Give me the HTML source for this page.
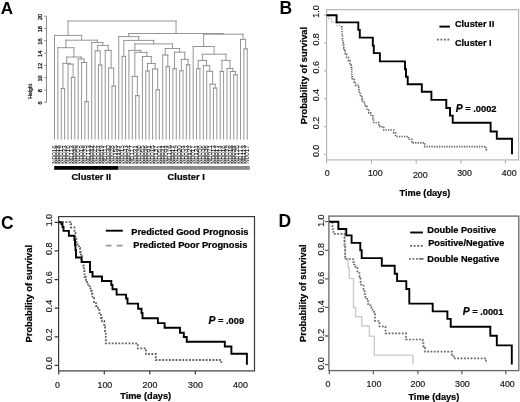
<!DOCTYPE html>
<html><head><meta charset="utf-8"><style>
html,body{margin:0;padding:0;background:#fff;}
body{width:520px;height:402px;overflow:hidden;}
svg{display:block;filter:grayscale(1);}
text{font-family:"Liberation Sans", sans-serif;}
</style></head><body>
<svg width="520" height="402" viewBox="0 0 520 402">
<g>
<rect width="520" height="402" fill="#fff"/>
<g stroke="#8a8a8a" stroke-width="0.9" fill="none" stroke-linecap="square">
<path d="M61.26 88.60L64.65 88.60 M61.26 88.60L61.26 139.00 M64.65 88.60L64.65 139.00 M71.41 77.40L74.79 77.40 M71.41 77.40L71.41 139.00 M74.79 77.40L74.79 139.00 M68.03 64.20L73.10 64.20 M68.03 64.20L68.03 139.00 M73.10 64.20L73.10 77.40 M62.95 63.40L70.56 63.40 M62.95 63.40L62.95 88.60 M70.56 63.40L70.56 64.20 M84.94 101.70L88.32 101.70 M84.94 101.70L84.94 139.00 M88.32 101.70L88.32 139.00 M81.56 62.50L86.63 62.50 M81.56 62.50L81.56 139.00 M86.63 62.50L86.63 101.70 M78.17 59.00L84.09 59.00 M78.17 59.00L78.17 139.00 M84.09 59.00L84.09 62.50 M66.76 57.00L81.13 57.00 M66.76 57.00L66.76 63.40 M81.13 57.00L81.13 59.00 M57.88 47.70L73.95 47.70 M57.88 47.70L57.88 139.00 M73.95 47.70L73.95 57.00 M98.47 65.00L101.85 65.00 M98.47 65.00L98.47 139.00 M101.85 65.00L101.85 139.00 M95.08 50.90L100.16 50.90 M95.08 50.90L95.08 139.00 M100.16 50.90L100.16 65.00 M111.99 86.10L115.38 86.10 M111.99 86.10L111.99 139.00 M115.38 86.10L115.38 139.00 M108.61 68.10L113.69 68.10 M108.61 68.10L108.61 139.00 M113.69 68.10L113.69 86.10 M105.23 50.40L111.15 50.40 M105.23 50.40L105.23 139.00 M111.15 50.40L111.15 68.10 M97.62 45.40L108.19 45.40 M97.62 45.40L97.62 50.90 M108.19 45.40L108.19 50.40 M91.70 42.50L102.90 42.50 M91.70 42.50L91.70 139.00 M102.90 42.50L102.90 45.40 M65.91 40.20L97.30 40.20 M65.91 40.20L65.91 47.70 M97.30 40.20L97.30 42.50 M54.50 35.40L81.61 35.40 M54.50 35.40L54.50 139.00 M81.61 35.40L81.61 40.20 M122.14 56.40L125.52 56.40 M122.14 56.40L122.14 139.00 M125.52 56.40L125.52 139.00 M135.67 95.70L139.05 95.70 M135.67 95.70L135.67 139.00 M139.05 95.70L139.05 139.00 M132.29 76.40L137.36 76.40 M132.29 76.40L132.29 139.00 M137.36 76.40L137.36 95.70 M145.81 71.00L149.20 71.00 M145.81 71.00L145.81 139.00 M149.20 71.00L149.20 139.00 M155.96 89.80L159.34 89.80 M155.96 89.80L155.96 139.00 M159.34 89.80L159.34 139.00 M152.58 68.90L157.65 68.90 M152.58 68.90L152.58 139.00 M157.65 68.90L157.65 89.80 M147.50 63.50L155.11 63.50 M147.50 63.50L147.50 71.00 M155.11 63.50L155.11 68.90 M142.43 56.50L151.31 56.50 M142.43 56.50L142.43 139.00 M151.31 56.50L151.31 63.50 M134.82 52.40L146.87 52.40 M134.82 52.40L134.82 76.40 M146.87 52.40L146.87 56.50 M128.90 50.40L140.85 50.40 M128.90 50.40L128.90 139.00 M140.85 50.40L140.85 52.40 M166.11 66.70L169.49 66.70 M166.11 66.70L166.11 139.00 M169.49 66.70L169.49 139.00 M162.72 55.00L167.80 55.00 M162.72 55.00L162.72 139.00 M167.80 55.00L167.80 66.70 M172.87 68.70L176.25 68.70 M172.87 68.70L172.87 139.00 M176.25 68.70L176.25 139.00 M179.63 70.70L183.02 70.70 M179.63 70.70L179.63 139.00 M183.02 70.70L183.02 139.00 M186.40 64.90L189.78 64.90 M186.40 64.90L186.40 139.00 M189.78 64.90L189.78 139.00 M181.32 59.40L188.09 59.40 M181.32 59.40L181.32 70.70 M188.09 59.40L188.09 64.90 M174.56 52.20L184.71 52.20 M174.56 52.20L174.56 68.70 M184.71 52.20L184.71 59.40 M165.26 48.50L179.63 48.50 M165.26 48.50L165.26 55.00 M179.63 48.50L179.63 52.20 M134.88 43.90L172.45 43.90 M134.88 43.90L134.88 50.40 M172.45 43.90L172.45 48.50 M123.83 40.40L153.66 40.40 M123.83 40.40L123.83 56.40 M153.66 40.40L153.66 43.90 M118.76 36.60L138.75 36.60 M118.76 36.60L118.76 139.00 M138.75 36.60L138.75 40.40 M196.54 68.70L199.93 68.70 M196.54 68.70L196.54 139.00 M199.93 68.70L199.93 139.00 M213.45 88.10L216.84 88.10 M213.45 88.10L213.45 139.00 M216.84 88.10L216.84 139.00 M210.07 84.20L215.15 84.20 M210.07 84.20L210.07 139.00 M215.15 84.20L215.15 88.10 M206.69 71.30L212.61 71.30 M206.69 71.30L206.69 139.00 M212.61 71.30L212.61 84.20 M203.31 65.70L209.65 65.70 M203.31 65.70L203.31 139.00 M209.65 65.70L209.65 71.30 M198.24 60.50L206.48 60.50 M198.24 60.50L198.24 68.70 M206.48 60.50L206.48 65.70 M220.22 71.50L223.60 71.50 M220.22 71.50L220.22 139.00 M223.60 71.50L223.60 139.00 M233.75 74.80L237.13 74.80 M233.75 74.80L233.75 139.00 M237.13 74.80L237.13 139.00 M230.36 71.50L235.44 71.50 M230.36 71.50L230.36 139.00 M235.44 71.50L235.44 74.80 M226.98 68.50L232.90 68.50 M226.98 68.50L226.98 139.00 M232.90 68.50L232.90 71.50 M221.91 60.40L229.94 60.40 M221.91 60.40L221.91 71.50 M229.94 60.40L229.94 68.50 M202.36 54.20L225.93 54.20 M202.36 54.20L202.36 60.50 M225.93 54.20L225.93 60.40 M193.16 46.50L214.14 46.50 M193.16 46.50L193.16 139.00 M214.14 46.50L214.14 54.20 M243.89 48.90L247.27 48.90 M243.89 48.90L243.89 139.00 M247.27 48.90L247.27 139.00 M240.51 39.40L245.58 39.40 M240.51 39.40L240.51 139.00 M245.58 39.40L245.58 48.90 M203.65 34.20L243.05 34.20 M203.65 34.20L203.65 46.50 M243.05 34.20L243.05 39.40 M128.75 33.50L223.35 33.50 M128.75 33.50L128.75 36.60 M223.35 33.50L223.35 34.20 M68.05 21.00L176.05 21.00 M68.05 21.00L68.05 35.40 M176.05 21.00L176.05 33.50"/>
</g>
<g stroke="#7a7a7a" stroke-width="0.85" fill="none">
<path d="M46.5 16.2L46.5 102.3
 M44.2 16.20L46.5 16.20
 M44.2 28.50L46.5 28.50
 M44.2 40.80L46.5 40.80
 M44.2 53.10L46.5 53.10
 M44.2 65.40L46.5 65.40
 M44.2 77.70L46.5 77.70
 M44.2 90.00L46.5 90.00
 M44.2 102.30L46.5 102.30
"/></g>
<text x="0" y="0" transform="translate(41.8 16.90) rotate(-90)" font-size="5.7" text-anchor="middle" fill="#222" stroke="#222" stroke-width="0.3" font-family='"Liberation Sans", sans-serif'>20</text>
<text x="0" y="0" transform="translate(41.8 29.20) rotate(-90)" font-size="5.7" text-anchor="middle" fill="#222" stroke="#222" stroke-width="0.3" font-family='"Liberation Sans", sans-serif'>18</text>
<text x="0" y="0" transform="translate(41.8 41.50) rotate(-90)" font-size="5.7" text-anchor="middle" fill="#222" stroke="#222" stroke-width="0.3" font-family='"Liberation Sans", sans-serif'>16</text>
<text x="0" y="0" transform="translate(41.8 53.80) rotate(-90)" font-size="5.7" text-anchor="middle" fill="#222" stroke="#222" stroke-width="0.3" font-family='"Liberation Sans", sans-serif'>14</text>
<text x="0" y="0" transform="translate(41.8 66.10) rotate(-90)" font-size="5.7" text-anchor="middle" fill="#222" stroke="#222" stroke-width="0.3" font-family='"Liberation Sans", sans-serif'>12</text>
<text x="0" y="0" transform="translate(41.8 78.40) rotate(-90)" font-size="5.7" text-anchor="middle" fill="#222" stroke="#222" stroke-width="0.3" font-family='"Liberation Sans", sans-serif'>10</text>
<text x="0" y="0" transform="translate(41.8 90.70) rotate(-90)" font-size="5.7" text-anchor="middle" fill="#222" stroke="#222" stroke-width="0.3" font-family='"Liberation Sans", sans-serif'>8</text>
<text x="0" y="0" transform="translate(41.8 103.00) rotate(-90)" font-size="5.7" text-anchor="middle" fill="#222" stroke="#222" stroke-width="0.3" font-family='"Liberation Sans", sans-serif'>6</text>
<text transform="translate(32.4 91.3) rotate(-90)" font-size="5.2" text-anchor="middle" fill="#222" stroke="#222" stroke-width="0.25" font-family='"Liberation Sans", sans-serif'>Height</text>
<g>
<text transform="translate(56.70 163.8) rotate(-90)" font-size="6.6" textLength="18.6" lengthAdjust="spacingAndGlyphs" fill="#1e1e1e" font-family='"Liberation Sans", sans-serif'>N0016</text>
<text transform="translate(60.08 163.8) rotate(-90)" font-size="6.6" textLength="18.6" lengthAdjust="spacingAndGlyphs" fill="#1e1e1e" font-family='"Liberation Sans", sans-serif'>N0018</text>
<text transform="translate(63.46 163.8) rotate(-90)" font-size="6.6" textLength="18.6" lengthAdjust="spacingAndGlyphs" fill="#1e1e1e" font-family='"Liberation Sans", sans-serif'>N0019</text>
<text transform="translate(66.85 163.8) rotate(-90)" font-size="6.6" textLength="18.6" lengthAdjust="spacingAndGlyphs" fill="#1e1e1e" font-family='"Liberation Sans", sans-serif'>N0033</text>
<text transform="translate(70.23 163.8) rotate(-90)" font-size="6.6" textLength="18.6" lengthAdjust="spacingAndGlyphs" fill="#1e1e1e" font-family='"Liberation Sans", sans-serif'>N0016</text>
<text transform="translate(73.61 163.8) rotate(-90)" font-size="6.6" textLength="18.6" lengthAdjust="spacingAndGlyphs" fill="#1e1e1e" font-family='"Liberation Sans", sans-serif'>N0113</text>
<text transform="translate(76.99 163.8) rotate(-90)" font-size="6.6" textLength="18.6" lengthAdjust="spacingAndGlyphs" fill="#1e1e1e" font-family='"Liberation Sans", sans-serif'>N0036</text>
<text transform="translate(80.37 163.8) rotate(-90)" font-size="6.6" textLength="18.6" lengthAdjust="spacingAndGlyphs" fill="#1e1e1e" font-family='"Liberation Sans", sans-serif'>N0059</text>
<text transform="translate(83.76 163.8) rotate(-90)" font-size="6.6" textLength="18.6" lengthAdjust="spacingAndGlyphs" fill="#1e1e1e" font-family='"Liberation Sans", sans-serif'>N0019</text>
<text transform="translate(87.14 163.8) rotate(-90)" font-size="6.6" textLength="18.6" lengthAdjust="spacingAndGlyphs" fill="#1e1e1e" font-family='"Liberation Sans", sans-serif'>N0039</text>
<text transform="translate(90.52 163.8) rotate(-90)" font-size="6.6" textLength="18.6" lengthAdjust="spacingAndGlyphs" fill="#1e1e1e" font-family='"Liberation Sans", sans-serif'>N0113</text>
<text transform="translate(93.90 163.8) rotate(-90)" font-size="6.6" textLength="18.6" lengthAdjust="spacingAndGlyphs" fill="#1e1e1e" font-family='"Liberation Sans", sans-serif'>N0032</text>
<text transform="translate(97.28 163.8) rotate(-90)" font-size="6.6" textLength="18.6" lengthAdjust="spacingAndGlyphs" fill="#1e1e1e" font-family='"Liberation Sans", sans-serif'>N0022</text>
<text transform="translate(100.67 163.8) rotate(-90)" font-size="6.6" textLength="18.6" lengthAdjust="spacingAndGlyphs" fill="#1e1e1e" font-family='"Liberation Sans", sans-serif'>N0034</text>
<text transform="translate(104.05 163.8) rotate(-90)" font-size="6.6" textLength="18.6" lengthAdjust="spacingAndGlyphs" fill="#1e1e1e" font-family='"Liberation Sans", sans-serif'>N0019</text>
<text transform="translate(107.43 163.8) rotate(-90)" font-size="6.6" textLength="18.6" lengthAdjust="spacingAndGlyphs" fill="#1e1e1e" font-family='"Liberation Sans", sans-serif'>N0011</text>
<text transform="translate(110.81 163.8) rotate(-90)" font-size="6.6" textLength="18.6" lengthAdjust="spacingAndGlyphs" fill="#1e1e1e" font-family='"Liberation Sans", sans-serif'>N0030</text>
<text transform="translate(114.19 163.8) rotate(-90)" font-size="6.6" textLength="18.6" lengthAdjust="spacingAndGlyphs" fill="#1e1e1e" font-family='"Liberation Sans", sans-serif'>N0028</text>
<text transform="translate(117.58 163.8) rotate(-90)" font-size="6.6" textLength="18.6" lengthAdjust="spacingAndGlyphs" fill="#1e1e1e" font-family='"Liberation Sans", sans-serif'>N0155</text>
<text transform="translate(120.96 163.8) rotate(-90)" font-size="6.6" textLength="18.6" lengthAdjust="spacingAndGlyphs" fill="#1e1e1e" font-family='"Liberation Sans", sans-serif'>N0137</text>
<text transform="translate(124.34 163.8) rotate(-90)" font-size="6.6" textLength="18.6" lengthAdjust="spacingAndGlyphs" fill="#1e1e1e" font-family='"Liberation Sans", sans-serif'>N0013</text>
<text transform="translate(127.72 163.8) rotate(-90)" font-size="6.6" textLength="18.6" lengthAdjust="spacingAndGlyphs" fill="#1e1e1e" font-family='"Liberation Sans", sans-serif'>N0043</text>
<text transform="translate(131.10 163.8) rotate(-90)" font-size="6.6" textLength="18.6" lengthAdjust="spacingAndGlyphs" fill="#1e1e1e" font-family='"Liberation Sans", sans-serif'>N0034</text>
<text transform="translate(134.49 163.8) rotate(-90)" font-size="6.6" textLength="18.6" lengthAdjust="spacingAndGlyphs" fill="#1e1e1e" font-family='"Liberation Sans", sans-serif'>N0117</text>
<text transform="translate(137.87 163.8) rotate(-90)" font-size="6.6" textLength="18.6" lengthAdjust="spacingAndGlyphs" fill="#1e1e1e" font-family='"Liberation Sans", sans-serif'>N0031</text>
<text transform="translate(141.25 163.8) rotate(-90)" font-size="6.6" textLength="18.6" lengthAdjust="spacingAndGlyphs" fill="#1e1e1e" font-family='"Liberation Sans", sans-serif'>N0036</text>
<text transform="translate(144.63 163.8) rotate(-90)" font-size="6.6" textLength="18.6" lengthAdjust="spacingAndGlyphs" fill="#1e1e1e" font-family='"Liberation Sans", sans-serif'>N0055</text>
<text transform="translate(148.01 163.8) rotate(-90)" font-size="6.6" textLength="18.6" lengthAdjust="spacingAndGlyphs" fill="#1e1e1e" font-family='"Liberation Sans", sans-serif'>N0026</text>
<text transform="translate(151.40 163.8) rotate(-90)" font-size="6.6" textLength="18.6" lengthAdjust="spacingAndGlyphs" fill="#1e1e1e" font-family='"Liberation Sans", sans-serif'>N0041</text>
<text transform="translate(154.78 163.8) rotate(-90)" font-size="6.6" textLength="18.6" lengthAdjust="spacingAndGlyphs" fill="#1e1e1e" font-family='"Liberation Sans", sans-serif'>N0015</text>
<text transform="translate(158.16 163.8) rotate(-90)" font-size="6.6" textLength="18.6" lengthAdjust="spacingAndGlyphs" fill="#1e1e1e" font-family='"Liberation Sans", sans-serif'>N0137</text>
<text transform="translate(161.54 163.8) rotate(-90)" font-size="6.6" textLength="18.6" lengthAdjust="spacingAndGlyphs" fill="#1e1e1e" font-family='"Liberation Sans", sans-serif'>N0051</text>
<text transform="translate(164.92 163.8) rotate(-90)" font-size="6.6" textLength="18.6" lengthAdjust="spacingAndGlyphs" fill="#1e1e1e" font-family='"Liberation Sans", sans-serif'>N0021</text>
<text transform="translate(168.31 163.8) rotate(-90)" font-size="6.6" textLength="18.6" lengthAdjust="spacingAndGlyphs" fill="#1e1e1e" font-family='"Liberation Sans", sans-serif'>N0044</text>
<text transform="translate(171.69 163.8) rotate(-90)" font-size="6.6" textLength="18.6" lengthAdjust="spacingAndGlyphs" fill="#1e1e1e" font-family='"Liberation Sans", sans-serif'>N0116</text>
<text transform="translate(175.07 163.8) rotate(-90)" font-size="6.6" textLength="18.6" lengthAdjust="spacingAndGlyphs" fill="#1e1e1e" font-family='"Liberation Sans", sans-serif'>N0017</text>
<text transform="translate(178.45 163.8) rotate(-90)" font-size="6.6" textLength="18.6" lengthAdjust="spacingAndGlyphs" fill="#1e1e1e" font-family='"Liberation Sans", sans-serif'>N0019</text>
<text transform="translate(181.83 163.8) rotate(-90)" font-size="6.6" textLength="18.6" lengthAdjust="spacingAndGlyphs" fill="#1e1e1e" font-family='"Liberation Sans", sans-serif'>N0020</text>
<text transform="translate(185.22 163.8) rotate(-90)" font-size="6.6" textLength="18.6" lengthAdjust="spacingAndGlyphs" fill="#1e1e1e" font-family='"Liberation Sans", sans-serif'>N0054</text>
<text transform="translate(188.60 163.8) rotate(-90)" font-size="6.6" textLength="18.6" lengthAdjust="spacingAndGlyphs" fill="#1e1e1e" font-family='"Liberation Sans", sans-serif'>N0043</text>
<text transform="translate(191.98 163.8) rotate(-90)" font-size="6.6" textLength="18.6" lengthAdjust="spacingAndGlyphs" fill="#1e1e1e" font-family='"Liberation Sans", sans-serif'>N0127</text>
<text transform="translate(195.36 163.8) rotate(-90)" font-size="6.6" textLength="18.6" lengthAdjust="spacingAndGlyphs" fill="#1e1e1e" font-family='"Liberation Sans", sans-serif'>N0017</text>
<text transform="translate(198.74 163.8) rotate(-90)" font-size="6.6" textLength="18.6" lengthAdjust="spacingAndGlyphs" fill="#1e1e1e" font-family='"Liberation Sans", sans-serif'>N0134</text>
<text transform="translate(202.13 163.8) rotate(-90)" font-size="6.6" textLength="18.6" lengthAdjust="spacingAndGlyphs" fill="#1e1e1e" font-family='"Liberation Sans", sans-serif'>N0056</text>
<text transform="translate(205.51 163.8) rotate(-90)" font-size="6.6" textLength="18.6" lengthAdjust="spacingAndGlyphs" fill="#1e1e1e" font-family='"Liberation Sans", sans-serif'>N0046</text>
<text transform="translate(208.89 163.8) rotate(-90)" font-size="6.6" textLength="18.6" lengthAdjust="spacingAndGlyphs" fill="#1e1e1e" font-family='"Liberation Sans", sans-serif'>N0046</text>
<text transform="translate(212.27 163.8) rotate(-90)" font-size="6.6" textLength="18.6" lengthAdjust="spacingAndGlyphs" fill="#1e1e1e" font-family='"Liberation Sans", sans-serif'>N0011</text>
<text transform="translate(215.65 163.8) rotate(-90)" font-size="6.6" textLength="18.6" lengthAdjust="spacingAndGlyphs" fill="#1e1e1e" font-family='"Liberation Sans", sans-serif'>N0013</text>
<text transform="translate(219.04 163.8) rotate(-90)" font-size="6.6" textLength="18.6" lengthAdjust="spacingAndGlyphs" fill="#1e1e1e" font-family='"Liberation Sans", sans-serif'>N0017</text>
<text transform="translate(222.42 163.8) rotate(-90)" font-size="6.6" textLength="18.6" lengthAdjust="spacingAndGlyphs" fill="#1e1e1e" font-family='"Liberation Sans", sans-serif'>N0014</text>
<text transform="translate(225.80 163.8) rotate(-90)" font-size="6.6" textLength="18.6" lengthAdjust="spacingAndGlyphs" fill="#1e1e1e" font-family='"Liberation Sans", sans-serif'>N0016</text>
<text transform="translate(229.18 163.8) rotate(-90)" font-size="6.6" textLength="18.6" lengthAdjust="spacingAndGlyphs" fill="#1e1e1e" font-family='"Liberation Sans", sans-serif'>N0039</text>
<text transform="translate(232.56 163.8) rotate(-90)" font-size="6.6" textLength="18.6" lengthAdjust="spacingAndGlyphs" fill="#1e1e1e" font-family='"Liberation Sans", sans-serif'>N0018</text>
<text transform="translate(235.95 163.8) rotate(-90)" font-size="6.6" textLength="18.6" lengthAdjust="spacingAndGlyphs" fill="#1e1e1e" font-family='"Liberation Sans", sans-serif'>N0028</text>
<text transform="translate(239.33 163.8) rotate(-90)" font-size="6.6" textLength="18.6" lengthAdjust="spacingAndGlyphs" fill="#1e1e1e" font-family='"Liberation Sans", sans-serif'>N0126</text>
<text transform="translate(242.71 163.8) rotate(-90)" font-size="6.6" textLength="18.6" lengthAdjust="spacingAndGlyphs" fill="#1e1e1e" font-family='"Liberation Sans", sans-serif'>N0117</text>
<text transform="translate(246.09 163.8) rotate(-90)" font-size="6.6" textLength="18.6" lengthAdjust="spacingAndGlyphs" fill="#1e1e1e" font-family='"Liberation Sans", sans-serif'>N0113</text>
<text transform="translate(249.47 163.8) rotate(-90)" font-size="6.6" textLength="18.6" lengthAdjust="spacingAndGlyphs" fill="#1e1e1e" font-family='"Liberation Sans", sans-serif'>N0017</text>
</g>
<rect x="54.2" y="166" width="63.9" height="3.8" fill="#000"/>
<rect x="118.1" y="166" width="131.7" height="3.8" fill="#8a8a8a"/>
<text x="71.4" y="179.9" font-size="9.3" font-weight="bold" stroke="#000" stroke-width="0.22" font-family='"Liberation Sans", sans-serif'>Cluster II</text>
<text x="167.6" y="180.0" font-size="9.3" font-weight="bold" stroke="#000" stroke-width="0.22" font-family='"Liberation Sans", sans-serif'>Cluster I</text>
<text x="0.8" y="13.7" font-size="17" font-weight="bold" font-family='"Liberation Sans", sans-serif'>A</text>
<text x="279.4" y="14.1" font-size="17.5" font-weight="bold" font-family='"Liberation Sans", sans-serif'>B</text>
<rect x="326.60" y="9.70" width="192.00" height="150.20" fill="none" stroke="#b0b0b0" stroke-width="1.1"/>
<path d="M324.20 15.10L326.60 15.10M324.20 42.98L326.60 42.98M324.20 70.86L326.60 70.86M324.20 98.74L326.60 98.74M324.20 126.62L326.60 126.62M324.20 154.50L326.60 154.50M326.60 159.90L326.60 163.50M371.40 159.90L371.40 163.50M416.20 159.90L416.20 163.50M461.00 159.90L461.00 163.50M505.50 159.90L505.50 163.50" stroke="#b0b0b0" stroke-width="1.1" fill="none"/>
<text transform="translate(319.40 11.50) rotate(-90)" font-size="8.9" text-anchor="middle" fill="#1a1a1a" stroke="#1a1a1a" stroke-width="0.2" font-family='"Liberation Sans", sans-serif'>1.0</text>
<text transform="translate(319.40 39.38) rotate(-90)" font-size="8.9" text-anchor="middle" fill="#1a1a1a" stroke="#1a1a1a" stroke-width="0.2" font-family='"Liberation Sans", sans-serif'>0.8</text>
<text transform="translate(319.40 67.26) rotate(-90)" font-size="8.9" text-anchor="middle" fill="#1a1a1a" stroke="#1a1a1a" stroke-width="0.2" font-family='"Liberation Sans", sans-serif'>0.6</text>
<text transform="translate(319.40 95.14) rotate(-90)" font-size="8.9" text-anchor="middle" fill="#1a1a1a" stroke="#1a1a1a" stroke-width="0.2" font-family='"Liberation Sans", sans-serif'>0.4</text>
<text transform="translate(319.40 123.02) rotate(-90)" font-size="8.9" text-anchor="middle" fill="#1a1a1a" stroke="#1a1a1a" stroke-width="0.2" font-family='"Liberation Sans", sans-serif'>0.2</text>
<text transform="translate(319.40 150.90) rotate(-90)" font-size="8.9" text-anchor="middle" fill="#1a1a1a" stroke="#1a1a1a" stroke-width="0.2" font-family='"Liberation Sans", sans-serif'>0.0</text>
<text x="327.30" y="175.60" font-size="8.9" text-anchor="middle" fill="#1a1a1a" stroke="#1a1a1a" stroke-width="0.2" font-family='"Liberation Sans", sans-serif'>0</text>
<text x="375.30" y="175.50" font-size="8.9" text-anchor="middle" fill="#1a1a1a" stroke="#1a1a1a" stroke-width="0.2" font-family='"Liberation Sans", sans-serif'>100</text>
<text x="420.30" y="177.90" font-size="8.9" text-anchor="middle" fill="#1a1a1a" stroke="#1a1a1a" stroke-width="0.2" font-family='"Liberation Sans", sans-serif'>200</text>
<text x="464.60" y="175.50" font-size="8.9" text-anchor="middle" fill="#1a1a1a" stroke="#1a1a1a" stroke-width="0.2" font-family='"Liberation Sans", sans-serif'>300</text>
<text x="509.20" y="175.50" font-size="8.9" text-anchor="middle" fill="#1a1a1a" stroke="#1a1a1a" stroke-width="0.2" font-family='"Liberation Sans", sans-serif'>400</text>
<text transform="translate(306.60 75.60) rotate(-90)" font-size="9.33" font-weight="bold" text-anchor="middle" stroke="#000" stroke-width="0.22" font-family='"Liberation Sans", sans-serif'>Probability of survival</text>
<text x="399.50" y="195.80" font-size="9.2" font-weight="bold" stroke="#000" stroke-width="0.22" font-family='"Liberation Sans", sans-serif'>Time (days)</text>
<path d="M439.4 26.6L449.9 26.6" stroke="#000" stroke-width="1.9"/>
<path d="M436.9 39.7L449.5 39.7" stroke="#707070" stroke-width="1.8" stroke-dasharray="2 1.5"/>
<text x="454.90" y="27.30" font-size="9.2" font-weight="bold" stroke="#000" stroke-width="0.22" font-family='"Liberation Sans", sans-serif'>Cluster II</text>
<text x="454.90" y="45.60" font-size="9.2" font-weight="bold" stroke="#000" stroke-width="0.22" font-family='"Liberation Sans", sans-serif'>Cluster I</text>
<text x="455.80" y="111.50" font-size="9.3" font-weight="bold" stroke="#000" stroke-width="0.22" font-family='"Liberation Sans", sans-serif'><tspan font-style="italic" font-size="10.3">P</tspan> = .0002</text>
<path d="M326.60 15.20 L328.50 15.20 L328.50 18.50 L331.50 18.50 L331.50 22.20 L337.00 22.20 L337.00 25.50 L341.00 25.50 L341.00 27.00" stroke="#b8b8b8" stroke-width="1.3" fill="none" stroke-dasharray="1.35 1.15"/>
<path d="M341.00 27.00 L342.00 27.00 L342.00 30.00 L342.00 33.00 L342.00 36.00 L342.50 36.00 L342.50 39.00 L342.80 39.00 L342.80 42.00 L343.20 42.00 L343.20 45.00 L343.80 45.00 L343.80 48.00 L344.20 48.00 L344.20 51.00 L345.20 51.00 L345.20 54.40 L346.60 54.40 L346.60 57.50 L348.50 57.50 L348.50 60.60 L350.00 60.60 L350.00 63.70 L351.20 63.70 L351.20 67.40 L351.80 67.40 L351.80 70.50 L351.80 73.60 L351.80 76.70 L352.40 76.70 L352.40 79.60 L354.30 79.60 L354.30 82.30 L355.50 82.30 L355.50 85.40 L358.00 85.40 L358.00 87.30 L358.70 87.30 L358.70 89.80 L359.30 89.80 L359.30 93.50 L360.50 93.50 L360.50 96.60 L361.80 96.60 L361.80 99.10 L362.50 99.10 L362.50 101.20 L364.00 101.20 L364.00 104.00 L365.60 104.00 L365.60 106.20 L367.00 106.20 L367.00 110.00 L368.70 110.00 L368.70 113.10 L371.00 113.10 L371.00 116.00 L373.10 116.00 L373.10 118.70 L373.60 118.70 L373.60 122.50 L378.70 122.50 L378.70 124.80 L380.00 124.80 L380.00 126.70 L383.70 126.70 L383.70 130.00 L393.70 130.00 L393.70 133.10 L395.60 133.10 L395.60 136.50 L408.50 136.50 L408.50 139.30 L411.90 139.30 L411.90 142.90 L424.70 142.90 L424.70 146.60 L486.00 146.60 L486.00 149.70 L488.00 149.70" stroke="#666" stroke-width="1.6" fill="none" stroke-dasharray="1.35 1.15"/>
<path d="M326.60 15.20 L336.60 15.20 L336.60 22.40 L358.30 22.40 L358.30 29.90 L359.80 29.90 L359.80 37.60 L372.80 37.60 L372.80 45.60 L373.80 45.60 L373.80 53.10 L379.90 53.10 L379.90 61.40 L405.00 61.40 L405.00 69.20 L406.00 69.20 L406.00 76.70 L407.70 76.70 L407.70 84.30 L421.80 84.30 L421.80 91.80 L431.40 91.80 L431.40 99.90 L446.30 99.90 L446.30 108.00 L450.00 108.00 L450.00 115.60 L452.70 115.60 L452.70 122.80 L490.60 122.80 L490.60 131.50 L496.80 131.50 L496.80 138.80 L512.00 138.80 L512.00 154.30" stroke="#000" stroke-width="1.9" fill="none" stroke-linejoin="miter"/>
<text x="1.0" y="228.7" font-size="17.5" font-weight="bold" font-family='"Liberation Sans", sans-serif'>C</text>
<rect x="58.60" y="216.60" width="195.90" height="154.30" fill="none" stroke="#3a3a3a" stroke-width="1.2"/>
<path d="M54.60 222.30L58.60 222.30M54.60 250.92L58.60 250.92M54.60 279.54L58.60 279.54M54.60 308.16L58.60 308.16M54.60 336.78L58.60 336.78M54.60 365.40L58.60 365.40M58.80 370.90L58.80 374.50M104.30 370.90L104.30 374.50M149.80 370.90L149.80 374.50M195.30 370.90L195.30 374.50" stroke="#3a3a3a" stroke-width="1.2" fill="none"/>
<text transform="translate(51.90 220.20) rotate(-90)" font-size="8.9" text-anchor="middle" fill="#1a1a1a" stroke="#1a1a1a" stroke-width="0.2" font-family='"Liberation Sans", sans-serif'>1.0</text>
<text transform="translate(51.90 248.82) rotate(-90)" font-size="8.9" text-anchor="middle" fill="#1a1a1a" stroke="#1a1a1a" stroke-width="0.2" font-family='"Liberation Sans", sans-serif'>0.8</text>
<text transform="translate(51.90 277.44) rotate(-90)" font-size="8.9" text-anchor="middle" fill="#1a1a1a" stroke="#1a1a1a" stroke-width="0.2" font-family='"Liberation Sans", sans-serif'>0.6</text>
<text transform="translate(51.90 306.06) rotate(-90)" font-size="8.9" text-anchor="middle" fill="#1a1a1a" stroke="#1a1a1a" stroke-width="0.2" font-family='"Liberation Sans", sans-serif'>0.4</text>
<text transform="translate(51.90 334.68) rotate(-90)" font-size="8.9" text-anchor="middle" fill="#1a1a1a" stroke="#1a1a1a" stroke-width="0.2" font-family='"Liberation Sans", sans-serif'>0.2</text>
<text transform="translate(51.90 363.30) rotate(-90)" font-size="8.9" text-anchor="middle" fill="#1a1a1a" stroke="#1a1a1a" stroke-width="0.2" font-family='"Liberation Sans", sans-serif'>0.0</text>
<text x="57.50" y="387.70" font-size="8.9" text-anchor="middle" fill="#1a1a1a" stroke="#1a1a1a" stroke-width="0.2" font-family='"Liberation Sans", sans-serif'>0</text>
<text x="104.90" y="387.70" font-size="8.9" text-anchor="middle" fill="#1a1a1a" stroke="#1a1a1a" stroke-width="0.2" font-family='"Liberation Sans", sans-serif'>100</text>
<text x="150.00" y="387.70" font-size="8.9" text-anchor="middle" fill="#1a1a1a" stroke="#1a1a1a" stroke-width="0.2" font-family='"Liberation Sans", sans-serif'>200</text>
<text x="195.50" y="387.70" font-size="8.9" text-anchor="middle" fill="#1a1a1a" stroke="#1a1a1a" stroke-width="0.2" font-family='"Liberation Sans", sans-serif'>300</text>
<text x="240.50" y="387.70" font-size="8.9" text-anchor="middle" fill="#1a1a1a" stroke="#1a1a1a" stroke-width="0.2" font-family='"Liberation Sans", sans-serif'>400</text>
<text transform="translate(31.60 293.70) rotate(-90)" font-size="9.33" font-weight="bold" text-anchor="middle" stroke="#000" stroke-width="0.22" font-family='"Liberation Sans", sans-serif'>Probability of survival</text>
<text x="120.20" y="398.80" font-size="9.2" font-weight="bold" stroke="#000" stroke-width="0.22" font-family='"Liberation Sans", sans-serif'>Time (days)</text>
<path d="M105.8 230.7L122.8 230.7" stroke="#000" stroke-width="1.9"/>
<path d="M105.8 245.6L122.5 245.6" stroke="#999" stroke-width="1.6" stroke-dasharray="5.7 5.2"/>
<text x="131.20" y="235.00" font-size="9.3" font-weight="bold" stroke="#000" stroke-width="0.22" font-family='"Liberation Sans", sans-serif'>Predicted Good Prognosis</text>
<text x="133.20" y="248.40" font-size="9.3" font-weight="bold" stroke="#000" stroke-width="0.22" font-family='"Liberation Sans", sans-serif'>Predicted Poor Prognosis</text>
<text x="208.50" y="324.40" font-size="9.3" font-weight="bold" stroke="#000" stroke-width="0.22" font-family='"Liberation Sans", sans-serif'><tspan font-style="italic" font-size="10.3">P</tspan> = .009</text>
<path d="M58.80 222.20 L70.50 222.20 L70.50 224.00 L71.00 224.00 L71.00 227.50 L74.50 227.50 L74.50 233.00 L75.50 233.00 L75.50 238.00 L76.50 238.00 L76.50 244.50 L79.00 244.50 L79.00 248.00 L80.00 248.00 L80.00 252.00 L81.00 252.00 L81.00 256.00 L82.00 256.00 L82.00 261.00 L83.50 261.00 L83.50 266.00 L84.00 266.00 L84.00 271.00 L84.50 271.00 L84.50 277.00 L86.00 277.00 L86.00 280.00 L87.00 280.00 L87.00 283.00 L88.00 283.00 L88.00 286.00 L89.50 286.00 L89.50 288.50 L90.50 288.50 L90.50 291.00 L92.00 291.00 L92.00 294.00 L92.50 294.00 L92.50 298.00 L94.00 298.00 L94.00 302.00 L96.00 302.00 L96.00 306.00 L98.00 306.00 L98.00 310.00 L99.50 310.00 L99.50 314.00 L101.00 314.00 L101.00 318.00 L102.00 318.00 L102.00 321.00 L104.30 321.00 L104.30 327.00 L105.00 327.00 L105.00 332.00 L105.80 332.00 L105.80 343.40 L137.80 343.40 L137.80 348.30 L146.00 348.30 L146.00 354.00 L155.80 354.00 L155.80 360.00 L221.30 360.00 L221.30 363.80" stroke="#626262" stroke-width="1.8" fill="none" stroke-dasharray="1.8 1.55"/>
<path d="M58.80 222.20 L61.50 222.20 L61.50 224.00 L62.50 224.00 L62.50 227.00 L63.50 227.00 L63.50 230.90 L68.90 230.90 L68.90 235.70 L74.40 235.70 L74.40 240.00 L75.00 240.00 L75.00 245.00 L75.50 245.00 L75.50 250.00 L76.00 250.00 L76.00 257.50 L81.50 257.50 L81.50 262.00 L90.00 262.00 L90.00 272.00 L92.50 272.00 L92.50 276.50 L102.00 276.50 L102.00 281.00 L111.30 281.00 L111.30 285.00 L112.50 285.00 L112.50 289.20 L116.60 289.20 L116.60 294.60 L126.10 294.60 L126.10 298.50 L127.50 298.50 L127.50 303.60 L138.10 303.60 L138.10 308.80 L141.50 308.80 L141.50 313.00 L142.50 313.00 L142.50 318.30 L157.90 318.30 L157.90 323.10 L164.60 323.10 L164.60 327.70 L180.00 327.70 L180.00 332.70 L183.80 332.70 L183.80 337.00 L186.70 337.00 L186.70 341.70 L224.80 341.70 L224.80 346.50 L231.40 346.50 L231.40 353.80 L246.90 353.80 L246.90 364.80" stroke="#000" stroke-width="1.9" fill="none"/>
<text x="278.5" y="226.7" font-size="17.5" font-weight="bold" font-family='"Liberation Sans", sans-serif'>D</text>
<rect x="328.90" y="216.10" width="189.90" height="154.50" fill="none" stroke="#666" stroke-width="1.3"/>
<path d="M324.90 221.70L328.90 221.70M324.90 250.28L328.90 250.28M324.90 278.86L328.90 278.86M324.90 307.44L328.90 307.44M324.90 336.02L328.90 336.02M324.90 364.60L328.90 364.60M329.40 370.60L329.40 374.20M373.40 370.60L373.40 374.20M417.90 370.60L417.90 374.20M461.90 370.60L461.90 374.20M505.80 370.60L505.80 374.20" stroke="#666" stroke-width="1.3" fill="none"/>
<text transform="translate(324.20 220.70) rotate(-90)" font-size="8.9" text-anchor="middle" fill="#1a1a1a" stroke="#1a1a1a" stroke-width="0.2" font-family='"Liberation Sans", sans-serif'>1.0</text>
<text transform="translate(324.20 249.28) rotate(-90)" font-size="8.9" text-anchor="middle" fill="#1a1a1a" stroke="#1a1a1a" stroke-width="0.2" font-family='"Liberation Sans", sans-serif'>0.8</text>
<text transform="translate(324.20 277.86) rotate(-90)" font-size="8.9" text-anchor="middle" fill="#1a1a1a" stroke="#1a1a1a" stroke-width="0.2" font-family='"Liberation Sans", sans-serif'>0.6</text>
<text transform="translate(324.20 306.44) rotate(-90)" font-size="8.9" text-anchor="middle" fill="#1a1a1a" stroke="#1a1a1a" stroke-width="0.2" font-family='"Liberation Sans", sans-serif'>0.4</text>
<text transform="translate(324.20 335.02) rotate(-90)" font-size="8.9" text-anchor="middle" fill="#1a1a1a" stroke="#1a1a1a" stroke-width="0.2" font-family='"Liberation Sans", sans-serif'>0.2</text>
<text transform="translate(324.20 363.60) rotate(-90)" font-size="8.9" text-anchor="middle" fill="#1a1a1a" stroke="#1a1a1a" stroke-width="0.2" font-family='"Liberation Sans", sans-serif'>0.0</text>
<text x="328.00" y="386.90" font-size="8.9" text-anchor="middle" fill="#1a1a1a" stroke="#1a1a1a" stroke-width="0.2" font-family='"Liberation Sans", sans-serif'>0</text>
<text x="374.00" y="386.90" font-size="8.9" text-anchor="middle" fill="#1a1a1a" stroke="#1a1a1a" stroke-width="0.2" font-family='"Liberation Sans", sans-serif'>100</text>
<text x="417.90" y="386.90" font-size="8.9" text-anchor="middle" fill="#1a1a1a" stroke="#1a1a1a" stroke-width="0.2" font-family='"Liberation Sans", sans-serif'>200</text>
<text x="462.40" y="386.90" font-size="8.9" text-anchor="middle" fill="#1a1a1a" stroke="#1a1a1a" stroke-width="0.2" font-family='"Liberation Sans", sans-serif'>300</text>
<text x="507.40" y="386.90" font-size="8.9" text-anchor="middle" fill="#1a1a1a" stroke="#1a1a1a" stroke-width="0.2" font-family='"Liberation Sans", sans-serif'>400</text>
<text transform="translate(305.50 293.20) rotate(-90)" font-size="9.33" font-weight="bold" text-anchor="middle" stroke="#000" stroke-width="0.22" font-family='"Liberation Sans", sans-serif'>Probability of survival</text>
<text x="408.40" y="399.90" font-size="9.2" font-weight="bold" stroke="#000" stroke-width="0.22" font-family='"Liberation Sans", sans-serif'>Time (days)</text>
<path d="M410.2 232.5L422.9 232.5" stroke="#000" stroke-width="1.9"/>
<path d="M410.2 245.9L422.9 245.9" stroke="#606060" stroke-width="1.8" stroke-dasharray="1.9 1.6"/>
<path d="M409.0 258.8L423.8 258.8" stroke="#707070" stroke-width="1.7" stroke-dasharray="1.8 1.7 1.8 1.7 1.8 1.2 4.6 9"/>
<text x="427.30" y="233.30" font-size="9.2" font-weight="bold" stroke="#000" stroke-width="0.22" font-family='"Liberation Sans", sans-serif'>Double Positive</text>
<text x="428.20" y="246.40" font-size="9.2" font-weight="bold" stroke="#000" stroke-width="0.22" font-family='"Liberation Sans", sans-serif'>Positive/Negative</text>
<text x="427.30" y="261.60" font-size="9.2" font-weight="bold" stroke="#000" stroke-width="0.22" font-family='"Liberation Sans", sans-serif'>Double Negative</text>
<text x="462.70" y="314.60" font-size="9.3" font-weight="bold" stroke="#000" stroke-width="0.22" font-family='"Liberation Sans", sans-serif'><tspan font-style="italic" font-size="10.3">P</tspan> = .0001</text>
<path d="M329.30 221.70 L338.30 221.70 L338.30 229.00 L345.00 229.00 L345.00 259.00 L348.00 259.00 L348.00 267.40 L349.30 267.40 L349.30 278.60 L353.50 278.60 L353.50 307.40 L355.60 307.40 L355.60 316.70 L361.80 316.70 L361.80 326.00 L369.40 326.00 L369.40 336.20 L374.30 336.20 L374.30 355.10 L412.90 355.10 L412.90 364.20" stroke="#cdcdcd" stroke-width="1.45" fill="none"/>
<path d="M329.30 221.70 L332.40 221.70 L332.40 229.00 L333.50 229.00 L333.50 233.90 L344.40 233.90 L344.40 245.00 L345.20 245.00 L345.20 259.00 L353.00 259.00 L353.00 262.00 L354.00 262.00 L354.00 264.50 L355.50 264.50 L355.50 268.00 L357.50 268.00 L357.50 273.00 L359.50 273.00 L359.50 277.00 L360.50 277.00 L360.50 282.00 L361.00 282.00 L361.00 284.50 L363.50 284.50 L363.50 290.00 L364.50 290.00 L364.50 294.00 L365.50 294.00 L365.50 297.50 L367.00 297.50 L367.00 301.00 L368.00 301.00 L368.00 304.00 L370.50 304.00 L370.50 307.50 L371.50 307.50 L371.50 310.00 L374.00 310.00 L374.00 313.00 L375.00 313.00 L375.00 321.00 L379.50 321.00 L379.50 326.50 L385.50 326.50 L385.50 333.40 L406.00 333.40 L406.00 339.50 L422.70 339.50 L422.70 343.00 L423.50 343.00 L423.50 347.00 L425.00 347.00 L425.00 351.60 L452.00 351.60 L452.00 355.00 L453.50 355.00 L453.50 358.40 L486.00 358.40 L486.00 363.50" stroke="#686868" stroke-width="1.7" fill="none" stroke-dasharray="1.8 1.55"/>
<path d="M329.30 221.70 L338.40 221.70 L338.40 229.00 L346.30 229.00 L346.30 235.40 L351.60 235.40 L351.60 242.90 L360.30 242.90 L360.30 250.30 L361.70 250.30 L361.70 258.10 L381.80 258.10 L381.80 265.80 L394.70 265.80 L394.70 273.70 L397.10 273.70 L397.10 281.10 L406.30 281.10 L406.30 289.00 L409.30 289.00 L409.30 303.60 L432.70 303.60 L432.70 311.40 L447.40 311.40 L447.40 318.90 L450.70 318.90 L450.70 326.70 L490.30 326.70 L490.30 335.70 L496.80 335.70 L496.80 345.40 L511.80 345.40 L511.80 364.40" stroke="#000" stroke-width="1.9" fill="none"/>
</g>
</svg>
</body></html>
